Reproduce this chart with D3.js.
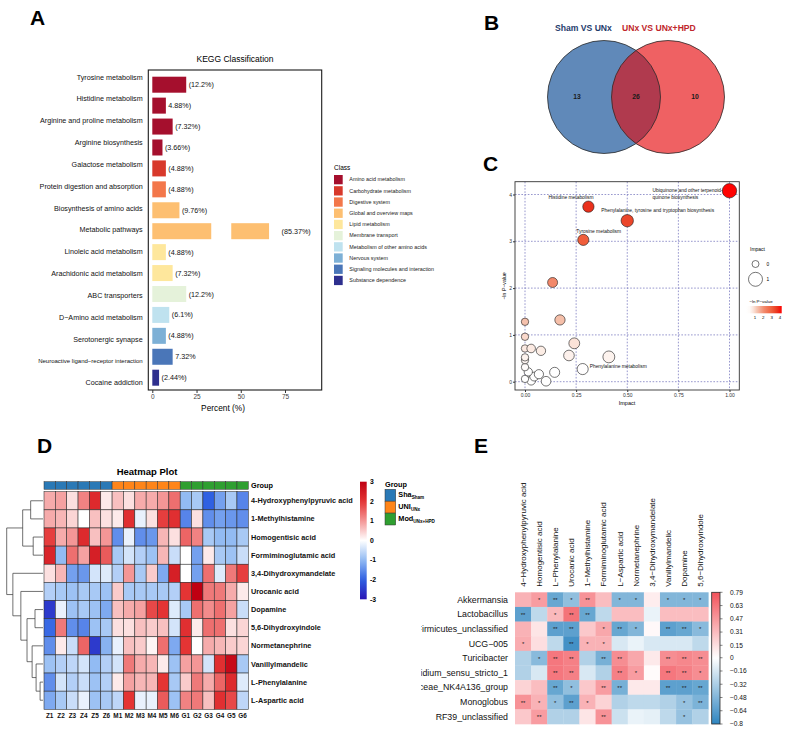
<!DOCTYPE html>
<html>
<head>
<meta charset="utf-8">
<script src="https://cdn.jsdelivr.net/npm/d3@7"></script>
<style>
  body { margin: 0; background: #fff; }
  svg { display: block; font-family: "Liberation Sans", Arial, sans-serif; }
</style>
</head>
<body>
<svg id="fig" width="790" height="735"></svg>
<script>
// ---------- panel A : KEGG classification ----------
const keggPathways = [
  "Tyrosine metabolism", "Histidine metabolism", "Arginine and proline metabolism",
  "Arginine biosynthesis", "Galactose metabolism", "Protein digestion and absorption",
  "Biosynthesis of amino acids", "Metabolic pathways", "Linoleic acid metabolism",
  "Arachidonic acid metabolism", "ABC transporters", "D\u2212Amino acid metabolism",
  "Serotonergic synapse", "Neuroactive ligand\u2212receptor interaction", "Cocaine addiction"
];
const keggPercent = [12.2, 4.88, 7.32, 3.66, 4.88, 4.88, 9.76, 85.37, 4.88, 7.32, 12.2, 6.1, 4.88, 7.32, 2.44];
const keggLabels = ["(12.2%)", "4.88%)", "(7.32%)", "(3.66%)", "(4.88%)", "(4.88%)", "(9.76%)",
  "(85.37%)", "(4.88%)", "(7.32%)", "(12.2%)", "(6.1%)", "(4.88%)", "7.32%", "(2.44%)"];
const keggClass = [0, 0, 0, 0, 1, 2, 3, 3, 4, 4, 5, 6, 7, 8, 9];
const classNames = ["Amino acid metabolism", "Carbohydrate metabolism", "Digestive system",
  "Global and overview maps", "Lipid metabolism", "Membrane transport",
  "Metabolism of other amino acids", "Nervous system", "Signaling molecules and interaction",
  "Substance dependence"];
const classColors = ["#a50f2d", "#d8392b", "#f3774a", "#fdbf71", "#fee79c", "#e5f2da",
  "#bfe2ef", "#7db0d6", "#4a76b8", "#2e2f8e"];
const percentTicks = [0, 25, 50, 75];
const brokenPathway = "Metabolic pathways";
const brokenSegments = [[0, 21.2], [28.4, 42]]; // drawn pieces of the broken bar (bar units)

// ---------- panel B : Venn ----------
const vennSets = ["Sham VS UNx", "UNx VS UNx+HPD"];
const vennCounts = [13, 26, 10]; // left only, shared, right only

// ---------- panel C : pathway impact bubbles ----------
const bubbleImpact = [1.00, 0.31, 0.50, 0.285, 0.135, 0.00, 0.171, 0.00, 0.241, 0.00, 0.03, 0.078,
  0.215, 0.41, 0.00, 0.00, 0.00, 0.282, 0.016, 0.068, 0.145, 0.00, 0.03, 0.103, 0.045];
const bubbleLnP = [4.08, 3.74, 3.44, 3.03, 2.12, 1.28, 1.32, 0.96, 0.82, 0.71, 0.71, 0.66,
  0.56, 0.53, 0.52, 0.46, 0.31, 0.27, 0.21, 0.16, 0.20, 0.06, 0.02, 0.01, 0.11];
const bubbleNames = [
  { i: 0, lines: ["Ubiquinone and other terpenoid-", "quinone biosynthesis"], dx: -77, dy: 0 },
  { i: 1, lines: ["Histidine metabolism"], dx: -40, dy: -9.5 },
  { i: 2, lines: ["Phenylalanine, tyrosine and tryptophan biosynthesis"], dx: -26, dy: -10 },
  { i: 3, lines: ["Tyrosine metabolism"], dx: -7, dy: -8.5 },
  { i: 17, lines: ["Phenylalanine metabolism"], dx: 7, dy: -3 }
];
const impactTicks = [0, 0.25, 0.5, 0.75, 1];
const lnpTicks = [0, 1, 2, 3, 4];

// ---------- panel D : heatmap ----------
const metabolitesD = ["4-Hydroxyphenylpyruvic acid", "1-Methylhistamine", "Homogentisic acid",
  "Formiminoglutamic acid", "3,4-Dihydroxymandelate", "Urocanic acid", "Dopamine",
  "5,6-Dihydroxyindole", "Normetanephrine", "Vanillylmandelic", "L-Phenylalanine", "L-Aspartic acid"];
const samplesD = ["Z1", "Z2", "Z3", "Z4", "Z5", "Z6", "M1", "M2", "M3", "M4", "M5", "M6",
  "G1", "G2", "G3", "G4", "G5", "G6"];
const sampleGroup = [0, 0, 0, 0, 0, 0, 1, 1, 1, 1, 1, 1, 2, 2, 2, 2, 2, 2];
const groupNames = [["Sha", "Sham"], ["UNI", "UNx"], ["Mod", "UNx+HPD"]];
const groupColors = ["#2a79b6", "#ff8519", "#2f9f30"];
const heatD = [
  [0.8, 0.9, 0.3, 1.2, 2.2, 0.2, 0.6, 0.3, 0.8, 0.8, 1.0, 1.4, -1.0, -0.8, -2.0, -1.3, -0.8, -1.6],
  [0.8, 0.7, 0.4, 0.0, 0.6, 0.3, 0.2, 2.1, -0.2, 0.3, 1.9, 2.1, -1.6, 0.3, -1.5, -1.3, -1.4, -1.5],
  [1.9, 0.8, 1.0, 2.2, 0.6, 1.0, -1.5, -0.2, -1.5, -1.4, 0.7, 0.3, 1.5, 1.2, -0.8, -1.0, -1.0, -0.8],
  [2.3, -1.0, 1.4, 0.9, 2.4, 1.6, -0.8, -0.4, -0.7, -0.9, 0.7, -0.5, 0.0, -1.3, 0.2, -0.8, -0.9, -0.5],
  [0.3, 0.7, -1.3, -1.4, -0.4, -0.3, -0.7, 1.0, -0.8, 0.5, -1.2, 2.4, 0.0, -1.3, 1.4, -0.3, 1.3, 1.9],
  [-0.7, -0.8, -0.9, -0.8, -0.8, -0.9, 0.5, -0.8, -0.8, -0.8, -0.8, -0.7, 2.0, 3.0, 1.3, 1.3, 0.8, 0.2],
  [-2.5, -0.2, -0.9, -0.8, -0.9, -1.2, 0.6, 0.8, 0.9, 1.8, 2.0, -0.3, -0.8, 1.4, 1.1, 1.4, 0.9, -0.5],
  [-1.9, 1.3, -1.5, -1.6, -0.9, -0.8, 0.3, 0.3, 0.6, 0.5, 0.6, -0.4, 2.1, 0.2, 1.4, 1.4, 0.3, 0.4],
  [-1.5, 0.2, -0.5, 1.5, -2.5, -1.1, -0.2, 0.6, 0.5, 0.1, 1.4, -1.2, 2.0, 0.0, 0.8, 0.7, 0.5, 0.4],
  [-0.9, -0.7, -0.6, -0.4, -1.0, -0.7, -0.4, 1.3, 0.8, 0.7, 0.2, -0.9, 0.9, 1.0, -0.4, 2.1, 2.8, -0.8],
  [-1.5, -0.4, -0.7, -0.5, -0.9, -0.7, 0.2, 0.9, 0.7, 0.7, 2.0, -0.8, 0.5, 1.3, 0.8, 1.5, 2.2, -0.3],
  [-1.2, -0.8, -0.5, -0.2, -0.9, -0.8, -0.6, 2.0, -0.2, -0.2, 1.6, -0.9, 1.2, 1.3, 0.6, 2.1, 1.8, -0.6]
];
const heatTicks = [3, 2, 1, 0, -1, -2, -3];
// row dendrogram: h = merge height, c = children (numbers are row indices)
const dendroD = { h: 10, c: [
  { h: 5.6, c: [{ h: 3.4, c: [0, 1] }, { h: 2.7, c: [2, 3] }] },
  { h: 8.3, c: [4, { h: 6.1, c: [5, { h: 4.4, c: [
    { h: 2.2, c: [6, 7] },
    { h: 3.0, c: [8, { h: 1.9, c: [9, { h: 0.8, c: [10, 11] }] }] }
  ] }] }] }
] };

// ---------- panel E : correlation ----------
const generaE = ["Akkermansia", "Lactobacillus", "Firmicutes_unclassified", "UCG\u2212005", "Turicibacter",
  "Clostridium_sensu_stricto_1", "Lachnospiraceae_NK4A136_group", "Monoglobus", "RF39_unclassified"];
const metabolitesE = ["4\u2212Hydroxyphenylpyruvic acid", "Homogentisic acid", "L\u2212Phenylalanine",
  "Urocanic acid", "1\u2212Methylhistamine", "Formiminoglutamic acid", "L\u2212Aspartic acid",
  "Normetanephrine", "3,4\u2212Dihydroxymandelate", "Vanillylmandelic", "Dopamine", "5,6\u2212Dihydroxyindole"];
const corrE = [
  [0.35, 0.45, -0.58, -0.42, 0.5, 0.3, -0.48, -0.48, 0.08, -0.48, -0.48, -0.48],
  [-0.62, -0.25, 0.32, 0.64, -0.58, -0.25, 0.3, 0.3, -0.08, 0.3, 0.3, 0.3],
  [0.35, 0.12, -0.62, -0.62, 0.25, 0.4, -0.58, -0.48, 0.03, -0.62, -0.58, -0.45],
  [0.38, 0.15, -0.25, -0.72, 0.35, 0.35, -0.15, -0.08, -0.15, -0.15, -0.15, -0.25],
  [-0.3, -0.45, 0.62, 0.58, -0.3, -0.52, 0.52, 0.4, 0.1, 0.52, 0.55, 0.52],
  [-0.3, -0.15, 0.62, 0.58, -0.15, -0.3, 0.58, 0.45, 0.02, 0.62, 0.58, 0.52],
  [0.2, 0.3, -0.58, -0.42, 0.25, 0.45, -0.52, 0.1, 0.1, -0.62, -0.62, -0.58],
  [0.5, 0.35, -0.42, -0.62, 0.35, 0.2, -0.3, -0.25, -0.25, -0.3, -0.4, -0.5],
  [0.25, 0.45, -0.3, -0.3, 0.12, 0.5, -0.2, -0.08, -0.1, -0.25, -0.4, -0.3]
];
const starsE = [
  ["", "*", "**", "*", "**", "", "*", "*", "", "*", "*", "*"],
  ["**", "", "*", "**", "**", "", "", "", "", "", "", ""],
  ["", "", "**", "**", "", "*", "**", "*", "", "**", "**", "*"],
  ["*", "", "", "**", "*", "*", "", "", "", "", "", ""],
  ["", "*", "**", "**", "", "**", "**", "", "", "**", "**", "**"],
  ["", "", "**", "**", "", "", "**", "*", "", "**", "**", "*"],
  ["", "", "**", "*", "", "**", "**", "", "", "**", "**", "**"],
  ["**", "*", "*", "**", "*", "", "", "", "", "", "*", "**"],
  ["", "**", "", "", "", "**", "", "", "", "", "*", ""]
];
const corrTicks = [0.79, 0.63, 0.47, 0.31, 0.15, 0, -0.16, -0.32, -0.48, -0.64, -0.8];

// =====================================================================
const d3 = window.d3;
const FONT = '"Liberation Sans", Arial, sans-serif';
const svg = d3.select("#fig");
svg.append("rect").attr("width", 790).attr("height", 735).attr("fill", "#fff");
const defs = svg.append("defs");

function letter(t, x, y) {
  svg.append("text").attr("x", x).attr("y", y)
    .attr("font-size", 21).attr("font-weight", "bold").attr("fill", "#000").text(t);
}
letter("A", 30, 25);
letter("B", 484, 30);
letter("C", 483, 171);
letter("D", 37, 453);
letter("E", 474, 453);

function styleAxis(a, size, color) {
  a.select(".domain").remove();
  a.selectAll(".tick line").attr("stroke", "#333");
  a.selectAll(".tick text").attr("font-size", size).attr("fill", color).attr("font-family", FONT);
}

// ---------------- A ----------------
{
  const g = svg.append("g");
  const barX = d3.scaleLinear().domain([0, 10]).range([152.3, 180.1]);
  const axX = d3.scaleLinear().domain([0, 75]).range([152.3, 285]);
  const barY = d3.scalePoint().domain(keggPathways).range([84.7, 377.7]);
  const labY = d3.scalePoint().domain(keggPathways).range([77, 382.7]);
  const barH = 16;

  g.append("text").attr("x", 235).attr("y", 62).attr("text-anchor", "middle")
    .attr("font-size", 8.5).text("KEGG Classification");

  const rows = keggPathways.map((p, i) => ({
    p, v: keggPercent[i], lab: keggLabels[i], col: classColors[keggClass[i]],
    segs: p === brokenPathway ? brokenSegments : [[0, keggPercent[i]]]
  }));

  g.selectAll("rect.bar")
    .data(rows.flatMap(d => d.segs.map(s => ({ ...d, s0: s[0], s1: s[1] }))))
    .join("rect")
    .attr("class", "bar")
    .attr("x", d => barX(d.s0))
    .attr("y", d => barY(d.p) - barH / 2)
    .attr("width", d => barX(d.s1) - barX(d.s0))
    .attr("height", barH)
    .attr("fill", d => d.col);

  g.selectAll("text.pct").data(rows).join("text")
    .attr("class", "pct")
    .attr("x", d => barX(d.segs[d.segs.length - 1][1]) + (d.segs.length > 1 ? 12.5 : 2.5))
    .attr("y", d => barY(d.p)).attr("dy", "0.35em")
    .attr("font-size", 7.2).attr("fill", "#111")
    .text(d => d.lab);

  g.selectAll("text.path").data(rows).join("text")
    .attr("class", "path")
    .attr("x", 142.7).attr("y", d => labY(d.p)).attr("dy", "0.35em")
    .attr("text-anchor", "end")
    .attr("font-size", d => d.p.length > 35 ? 6 : 7.2).attr("fill", "#111")
    .text(d => d.p);

  g.append("rect").attr("x", 148.3).attr("y", 70).attr("width", 173.4).attr("height", 320)
    .attr("fill", "none").attr("stroke", "#1a1a1a").attr("stroke-width", 1.1);

  const ax = g.append("g").attr("transform", "translate(0,390)")
    .call(d3.axisBottom(axX).tickValues(percentTicks).tickSize(3).tickPadding(1.5));
  styleAxis(ax, 6.5, "#444");

  g.append("text").attr("x", 223).attr("y", 411).attr("text-anchor", "middle")
    .attr("font-size", 8.3).text("Percent (%)");

  // legend
  const lg = g.append("g");
  lg.append("text").attr("x", 334).attr("y", 169.5).attr("font-size", 6.5).text("Class");
  const ly = d3.scalePoint().domain(classNames).range([179.6, 280.4]);
  lg.selectAll("rect").data(classNames).join("rect")
    .attr("x", 334).attr("y", d => ly(d) - 4.6).attr("width", 8.7).attr("height", 9.3)
    .attr("fill", (d, i) => classColors[i]);
  lg.selectAll("text.item").data(classNames).join("text")
    .attr("class", "item")
    .attr("x", 349.3).attr("y", d => ly(d)).attr("dy", "0.35em")
    .attr("font-size", 5.4).attr("fill", "#222").text(d => d);
}

// ---------------- B ----------------
{
  const g = svg.append("g");
  const cy = 97, r = 56.5;
  const cx = d3.scalePoint().domain(vennSets).range([604, 668]);
  const L = cx(vennSets[0]), R = cx(vennSets[1]);

  defs.append("clipPath").attr("id", "clipLeft")
    .append("circle").attr("cx", L).attr("cy", cy).attr("r", r);

  g.append("circle").attr("cx", L).attr("cy", cy).attr("r", r).attr("fill", "#6089b9");
  g.append("circle").attr("cx", R).attr("cy", cy).attr("r", r).attr("fill", "#ef6163");
  g.append("circle").attr("cx", R).attr("cy", cy).attr("r", r)
    .attr("clip-path", "url(#clipLeft)").attr("fill", "#b03a4e");
  g.selectAll("circle.edge").data(vennSets).join("circle")
    .attr("class", "edge")
    .attr("cx", d => cx(d)).attr("cy", cy).attr("r", r)
    .attr("fill", "none").attr("stroke", "#2b2b2b").attr("stroke-width", 0.8);

  g.append("text").attr("x", 555).attr("y", 31).attr("font-size", 8.6).attr("font-weight", "bold")
    .attr("fill", "#1f3c6c").text(vennSets[0]);
  g.append("text").attr("x", 622).attr("y", 31).attr("font-size", 8.6).attr("font-weight", "bold")
    .attr("fill", "#c0262b").text(vennSets[1]);

  const countX = [L - 27, (L + R) / 2, R + 27];
  g.selectAll("text.cnt").data(vennCounts).join("text")
    .attr("class", "cnt")
    .attr("x", (d, i) => countX[i]).attr("y", cy).attr("dy", "0.35em")
    .attr("text-anchor", "middle").attr("font-size", 6.8).attr("font-weight", "bold")
    .attr("fill", "#1a1a1a").text(d => d);
}

// ---------------- C ----------------
{
  const g = svg.append("g");
  const x = d3.scaleLinear().domain([0, 1]).range([525, 729.5]);
  const y = d3.scaleLinear().domain([0, 4]).range([381.7, 194.5]);
  const rS = d3.scaleSqrt().domain([0, 1]).range([3.7, 7.2]);
  const fillS = d3.scaleLinear()
    .domain([0.25, 0.7, 1.3, 2.1, 3.0, 3.7, 4.1])
    .range(["#ffffff", "#fcebe3", "#f5c0ab", "#f2896c", "#f0603c", "#e8361f", "#ff0000"])
    .clamp(true);

  // grid
  g.selectAll("line.vg").data(impactTicks).join("line")
    .attr("x1", d => x(d)).attr("x2", d => x(d)).attr("y1", 181.7).attr("y2", 390)
    .attr("stroke", "#6a6ab8").attr("stroke-width", 0.7).attr("stroke-dasharray", "1.6,1.6");
  g.selectAll("line.hg").data(lnpTicks).join("line")
    .attr("x1", 515).attr("x2", 739.3).attr("y1", d => y(d)).attr("y2", d => y(d))
    .attr("stroke", "#6a6ab8").attr("stroke-width", 0.7).attr("stroke-dasharray", "1.6,1.6");

  g.append("rect").attr("x", 515).attr("y", 181.7).attr("width", 224.3).attr("height", 208.3)
    .attr("fill", "none").attr("stroke", "#333").attr("stroke-width", 0.9);

  const ax = g.append("g").attr("transform", "translate(0,390)")
    .call(d3.axisBottom(x).tickValues(impactTicks).tickFormat(d3.format(".2f")).tickSize(2).tickPadding(1.5));
  const ay = g.append("g").attr("transform", "translate(515,0)")
    .call(d3.axisLeft(y).tickValues(lnpTicks).tickFormat(d3.format("d")).tickSize(2).tickPadding(1));
  styleAxis(ax, 5, "#333");
  styleAxis(ay, 5, "#333");

  g.append("text").attr("x", 627).attr("y", 405).attr("text-anchor", "middle")
    .attr("font-size", 5.5).text("Impact");
  const yl = g.append("text").attr("transform", "translate(506,286) rotate(-90)")
    .attr("text-anchor", "middle").attr("font-size", 5.2);
  yl.append("tspan").text("\u2212ln ");
  yl.append("tspan").attr("font-style", "italic").text("P");
  yl.append("tspan").text("\u2212value");

  const pts = bubbleImpact.map((v, i) => ({ i, imp: v, lnp: bubbleLnP[i] }))
    .sort((a, b) => a.lnp - b.lnp);
  g.selectAll("circle.b").data(pts).join("circle")
    .attr("class", "b")
    .attr("cx", d => x(d.imp)).attr("cy", d => y(d.lnp)).attr("r", d => rS(d.imp))
    .attr("fill", d => fillS(d.lnp)).attr("stroke", "#1a1a1a").attr("stroke-width", 0.6);

  bubbleNames.forEach(n => {
    const bx = x(bubbleImpact[n.i]) + n.dx;
    const t = g.append("text").attr("x", bx).attr("y", y(bubbleLnP[n.i]) + n.dy)
      .attr("font-size", 4.9).attr("fill", "#111");
    n.lines.forEach((l, k) => t.append("tspan")
      .attr("x", bx).attr("dy", k === 0 ? "0.35em" : "1.3em").text(l));
  });

  // size legend
  g.append("text").attr("x", 750).attr("y", 251).attr("font-size", 5).text("Impact");
  const lgY = d3.scalePoint().domain([0, 1]).range([264, 279.3]);
  g.selectAll("circle.lg").data([0, 1]).join("circle")
    .attr("class", "lg")
    .attr("cx", 755.5).attr("cy", d => lgY(d)).attr("r", d => rS(d) - 0.2)
    .attr("fill", "#fff").attr("stroke", "#1a1a1a").attr("stroke-width", 0.6);
  g.selectAll("text.lg").data([0, 1]).join("text")
    .attr("class", "lg")
    .attr("x", 766.5).attr("y", d => lgY(d)).attr("dy", "0.35em")
    .attr("font-size", 4.8).text(d => d);

  // colour legend
  const cl = d3.scaleLinear().domain([1, 4]).range([755, 780]);
  const grad = defs.append("linearGradient").attr("id", "gradC");
  d3.range(0, 1.0001, 0.1).forEach(t => {
    grad.append("stop").attr("offset", t).attr("stop-color", fillS(cl.invert(746 + t * 35.7)));
  });
  g.append("text").attr("x", 761).attr("y", 303).attr("text-anchor", "middle")
    .attr("font-size", 4.4).text("\u2212ln P\u2212value");
  g.append("rect").attr("x", 746).attr("y", 306).attr("width", 35.7).attr("height", 7.3)
    .attr("fill", "url(#gradC)");
  g.selectAll("text.cl").data([1, 2, 3, 4]).join("text")
    .attr("class", "cl")
    .attr("x", d => cl(d)).attr("y", 319).attr("text-anchor", "middle")
    .attr("font-size", 4.4).text(d => d);
}

// ---------------- D ----------------
{
  const g = svg.append("g");
  const x = d3.scaleBand().domain(samplesD).range([44, 248.3]);
  const y = d3.scaleBand().domain(metabolitesD).range([491.7, 709.3]);
  const col = d3.scaleLinear()
    .domain([-3, -2, -1, 0, 1, 2, 3])
    .range(["#2a14b5", "#2f60e2", "#92bbf3", "#ffffff", "#f49696", "#e43434", "#bf0012"])
    .clamp(true);

  g.append("text").attr("x", 147).attr("y", 475).attr("text-anchor", "middle")
    .attr("font-size", 9.5).attr("font-weight", "bold").text("Heatmap Plot");

  // group annotation bar
  g.selectAll("rect.grp").data(samplesD).join("rect")
    .attr("class", "grp")
    .attr("x", d => x(d)).attr("y", 481.7).attr("width", x.bandwidth()).attr("height", 7.6)
    .attr("fill", (d, i) => groupColors[sampleGroup[i]])
    .attr("stroke", "#333").attr("stroke-width", 0.5);
  g.append("text").attr("x", 251).attr("y", 485.5).attr("dy", "0.35em")
    .attr("font-size", 7.3).attr("font-weight", "bold").text("Group");

  const cells = heatD.flatMap((row, r) => row.map((v, c) => ({ r: metabolitesD[r], c: samplesD[c], v })));
  g.selectAll("rect.cell").data(cells).join("rect")
    .attr("class", "cell")
    .attr("x", d => x(d.c)).attr("y", d => y(d.r))
    .attr("width", x.bandwidth()).attr("height", y.bandwidth())
    .attr("fill", d => col(d.v)).attr("stroke", "#2a2a2a").attr("stroke-width", 0.55);

  g.selectAll("text.row").data(metabolitesD).join("text")
    .attr("class", "row")
    .attr("x", 251).attr("y", d => y(d) + y.bandwidth() / 2).attr("dy", "0.35em")
    .attr("font-size", 7.3).attr("font-weight", "bold").attr("fill", "#111").text(d => d);
  g.selectAll("text.colD").data(samplesD).join("text")
    .attr("class", "colD")
    .attr("x", d => x(d) + x.bandwidth() / 2).attr("y", 716).attr("dy", "0.35em")
    .attr("text-anchor", "middle").attr("font-size", 6.4).attr("font-weight", "bold")
    .attr("fill", "#111").text(d => d);

  // dendrogram
  const hx = d3.scaleLinear().domain([0, 10]).range([43, 6.7]);
  const dg = g.append("g").attr("stroke", "#333").attr("stroke-width", 0.7).attr("fill", "none");
  function lay(node) {
    if (typeof node === "number") {
      return { x: hx(0), y: y(metabolitesD[node]) + y.bandwidth() / 2 };
    }
    const kids = node.c.map(lay);
    const nx = hx(node.h);
    kids.forEach(k => dg.append("line").attr("x1", nx).attr("x2", k.x).attr("y1", k.y).attr("y2", k.y));
    dg.append("line").attr("x1", nx).attr("x2", nx).attr("y1", kids[0].y).attr("y2", kids[1].y);
    return { x: nx, y: (kids[0].y + kids[1].y) / 2 };
  }
  lay(dendroD);

  // colour bar
  const cb = d3.scaleLinear().domain([3, -3]).range([481.7, 599.3]);
  const grad = defs.append("linearGradient").attr("id", "gradD")
    .attr("x1", 0).attr("x2", 0).attr("y1", 0).attr("y2", 1);
  d3.range(0, 1.0001, 0.05).forEach(t => {
    grad.append("stop").attr("offset", t).attr("stop-color", col(3 - 6 * t));
  });
  g.append("rect").attr("x", 360).attr("y", 481.7).attr("width", 6.7).attr("height", 117.6)
    .attr("fill", "url(#gradD)");
  g.selectAll("text.cb").data(heatTicks).join("text")
    .attr("class", "cb")
    .attr("x", 370).attr("y", d => cb(d)).attr("dy", "0.35em")
    .attr("font-size", 6.8).attr("font-weight", "bold").text(d => d);

  // group legend
  g.append("text").attr("x", 385).attr("y", 484).attr("dy", "0.35em")
    .attr("font-size", 7.3).attr("font-weight", "bold").text("Group");
  const gy = d3.scaleBand().domain(groupNames.map(d => d[0])).range([489.3, 525]);
  g.selectAll("rect.gl").data(groupNames).join("rect")
    .attr("class", "gl")
    .attr("x", 385).attr("y", d => gy(d[0])).attr("width", 10.7).attr("height", gy.bandwidth())
    .attr("fill", (d, i) => groupColors[i]).attr("stroke", "#333").attr("stroke-width", 0.5);
  g.selectAll("text.gl").data(groupNames).join("text")
    .attr("class", "gl")
    .attr("x", 398.3).attr("y", d => gy(d[0]) + gy.bandwidth() / 2 + 2)
    .attr("font-weight", "bold")
    .each(function (d) {
      const t = d3.select(this);
      t.append("tspan").attr("font-size", 7.3).text(d[0]);
      t.append("tspan").attr("font-size", 4.6).attr("dy", 1.6).text(d[1]);
    });
}

// ---------------- E ----------------
{
  const g = svg.append("g");
  const x = d3.scaleBand().domain(metabolitesE).range([515, 708.3]);
  const y = d3.scaleBand().domain(generaE).range([592.3, 724]);
  const col = d3.scaleLinear().domain([-0.8, 0, 0.79])
    .range(["#2e85c0", "#ffffff", "#f2525a"]).clamp(true);

  const cells = corrE.flatMap((row, r) => row.map((v, c) => ({
    r: generaE[r], c: metabolitesE[c], v, s: starsE[r][c]
  })));
  g.selectAll("rect.cell").data(cells).join("rect")
    .attr("class", "cell")
    .attr("x", d => x(d.c)).attr("y", d => y(d.r))
    .attr("width", x.bandwidth() + 0.3).attr("height", y.bandwidth() + 0.3)
    .attr("fill", d => col(d.v));
  g.selectAll("text.star").data(cells.filter(d => d.s)).join("text")
    .attr("class", "star")
    .attr("x", d => x(d.c) + x.bandwidth() / 2).attr("y", d => y(d.r) + y.bandwidth() / 2 + 2.6)
    .attr("text-anchor", "middle").attr("font-size", 6).attr("fill", "#222").text(d => d.s);

  // row names are cut on the left, as in the source figure
  defs.append("clipPath").attr("id", "clipRowsE")
    .append("rect").attr("x", 421.2).attr("y", 585).attr("width", 95).attr("height", 145);
  g.append("g").attr("clip-path", "url(#clipRowsE)")
    .selectAll("text").data(generaE).join("text")
    .attr("x", 508).attr("y", d => y(d) + y.bandwidth() / 2).attr("dy", "0.35em")
    .attr("text-anchor", "end").attr("font-size", 8.8).attr("fill", "#111").text(d => d);

  // rotated column names, bottom-aligned above the cells
  g.selectAll("text.colE").data(metabolitesE).join("text")
    .attr("class", "colE")
    .attr("transform", d => `translate(${x(d) + x.bandwidth() / 2},586.7) rotate(-90)`)
    .attr("dy", "0.35em").attr("text-anchor", "start")
    .attr("font-size", 8).attr("fill", "#111").text(d => d);

  // colour bar
  const cb = d3.scaleLinear().domain([0.79, -0.8]).range([592.3, 724]);
  const grad = defs.append("linearGradient").attr("id", "gradE")
    .attr("x1", 0).attr("x2", 0).attr("y1", 0).attr("y2", 1);
  d3.range(0, 1.0001, 0.05).forEach(t => {
    grad.append("stop").attr("offset", t).attr("stop-color", col(cb.invert(592.3 + t * 131.7)));
  });
  g.append("rect").attr("x", 711.7).attr("y", 592.3).attr("width", 8.3).attr("height", 131.7)
    .attr("fill", "url(#gradE)").attr("stroke", "#2a2a2a").attr("stroke-width", 0.8);
  g.selectAll("line.cbt").data(corrTicks).join("line")
    .attr("class", "cbt")
    .attr("x1", 720).attr("x2", 722.5).attr("y1", d => cb(d)).attr("y2", d => cb(d))
    .attr("stroke", "#333").attr("stroke-width", 0.6);
  g.selectAll("text.cbt").data(corrTicks).join("text")
    .attr("class", "cbt")
    .attr("x", 730).attr("y", d => cb(d)).attr("dy", "0.35em")
    .attr("font-size", 6.6).attr("fill", "#111")
    .text(d => d === 0 ? "0" : (d < 0 ? "\u2212" + Math.abs(d) : d));
}
</script>
</body>
</html>
